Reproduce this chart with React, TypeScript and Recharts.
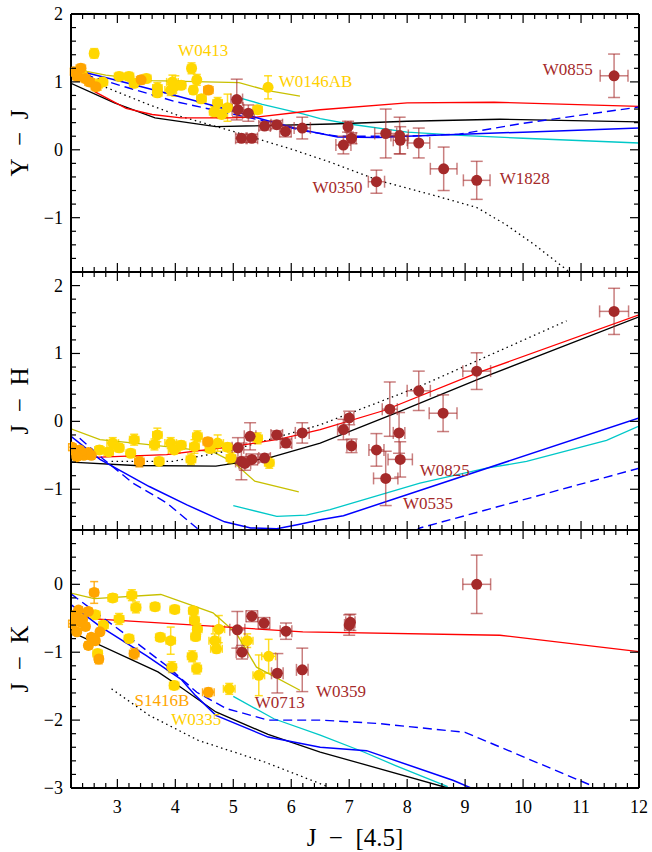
import React from 'react';
import { ComposedChart, XAxis, YAxis, Scatter, Line, ErrorBar, ReferenceDot } from 'recharts';

type Pt = [number, number, number, number]; // x, y, xerr, yerr
type Vx = [number, number];
type Note = [string, number, number, string];

// ---------------- shared x axis ----------------
const xDomain: [number, number] = [2.2, 12];
const xTitle = 'J\u2002\u2212\u2002[4.5]';

// ---------------- panel 1 : Y - J ----------------
const yjDomain: [number, number] = [-1.8, 2];
const yjTitle = 'Y\u2002\u2212\u2002J';
const yjYellow: Pt[] = [
  [2.60, 1.42, 0.07, 0.07], [4.28, 1.20, 0.07, 0.08], [4.37, 1.03, 0.06, 0.08], [4.31, 0.88, 0.06, 0.06],
  [3.03, 1.08, 0.08, 0.06], [3.20, 1.08, 0.08, 0.06], [3.29, 0.98, 0.08, 0.06], [3.50, 1.05, 0.08, 0.06],
  [3.69, 0.91, 0.08, 0.08], [3.69, 0.84, 0.08, 0.06], [3.95, 1.00, 0.10, 0.10], [3.92, 0.88, 0.10, 0.08],
  [4.00, 0.94, 0.10, 0.15], [4.10, 0.95, 0.08, 0.06], [2.66, 0.96, 0.08, 0.08], [2.40, 1.10, 0.08, 0.06],
  [2.75, 1.00, 0.08, 0.06], [4.45, 0.75, 0.08, 0.06], [4.73, 0.69, 0.08, 0.08], [4.67, 0.56, 0.08, 0.08],
  [4.90, 0.62, 0.08, 0.20], [4.80, 0.52, 0.08, 0.06], [5.42, 0.59, 0.08, 0.06], [5.60, 0.92, 0.05, 0.17],
];
const yjOrange: Pt[] = [
  [2.25, 1.15, 0.06, 0.05], [2.37, 1.20, 0.08, 0.06], [2.31, 1.08, 0.08, 0.06], [2.45, 1.05, 0.08, 0.06],
  [2.52, 1.00, 0.08, 0.06], [2.63, 0.93, 0.08, 0.06], [3.41, 1.03, 0.08, 0.06], [4.57, 0.88, 0.08, 0.06],
];
const yjRed: Pt[] = [
  [5.06, 0.74, 0.10, 0.30], [5.08, 0.59, 0.10, 0.10], [5.26, 0.54, 0.10, 0.12], [5.14, 0.17, 0.10, 0.06],
  [5.32, 0.17, 0.10, 0.06], [5.54, 0.35, 0.10, 0.06], [5.75, 0.37, 0.10, 0.06], [5.90, 0.27, 0.10, 0.08],
  [6.19, 0.32, 0.14, 0.16], [6.98, 0.34, 0.05, 0.08], [7.04, 0.17, 0.08, 0.08], [6.90, 0.07, 0.13, 0.13],
  [7.47, -0.47, 0.14, 0.17], [7.63, 0.24, 0.19, 0.36], [7.87, 0.21, 0.15, 0.27], [7.88, 0.14, 0.12, 0.20],
  [8.20, 0.10, 0.19, 0.22], [8.63, -0.28, 0.23, 0.32], [9.20, -0.45, 0.23, 0.28], [11.57, 1.09, 0.24, 0.32],
];
const yjRedModel: Vx[] = [[2.6, 0.86], [3.15, 0.61], [3.6, 0.52], [4.1, 0.47], [4.9, 0.47], [5.4, 0.48], [6.2, 0.56], [6.5, 0.59], [8, 0.69], [9.5, 0.70], [12, 0.64]];
const yjBlackModel: Vx[] = [[2.2, 0.98], [2.95, 0.69], [3.65, 0.47], [4.7, 0.34], [6.7, 0.38], [8, 0.42], [9.6, 0.45], [12, 0.41]];
const yjDotted: Vx[] = [[2.8, 0.92], [3.5, 0.68], [4.1, 0.49], [5, 0.27], [6, 0.01], [6.7, -0.19], [7.5, -0.45], [8.5, -0.68], [9.2, -0.85], [9.7, -1.1], [10.2, -1.4], [10.8, -1.8]];
const yjBlue: Vx[] = [[2.2, 1.19], [3, 1.02], [4, 0.8], [5, 0.57], [5.5, 0.45], [6.2, 0.29], [6.8, 0.19], [7.5, 0.18], [8, 0.2], [10, 0.26], [12, 0.32]];
const yjBlueDash: Vx[] = [[2.2, 1.17], [3, 0.96], [4, 0.71], [4.7, 0.58], [5.5, 0.43], [6.2, 0.28], [6.8, 0.2], [8, 0.2], [8.9, 0.23], [10, 0.39], [12, 0.63]];
const yjCyan: Vx[] = [[5.0, 0.79], [5.5, 0.67], [6.2, 0.53], [6.5, 0.46], [7, 0.38], [8, 0.26], [9, 0.21], [10, 0.17], [12, 0.10]];
const yjOlive: Vx[] = [[2.2, 1.2], [2.8, 1.1], [3.6, 1.02], [5.1, 0.99], [5.6, 0.87], [6.15, 0.79]];
const yjNotes: Note[] = [
  ['W0413', 4.48, 1.47, 'gold'], ['W0146AB', 6.42, 1.01, 'gold'], ['W0855', 10.77, 1.19, 'red'],
  ['W0350', 6.80, -0.55, 'red'], ['W1828', 10.03, -0.42, 'red'],
];

// ---------------- panel 2 : J - H ----------------
const jhDomain: [number, number] = [-1.6, 2.2];
const jhTitle = 'J\u2002\u2212\u2002H';
const jhYellow: Pt[] = [
  [3.69, -0.20, 0.08, 0.10], [4.38, -0.22, 0.08, 0.08], [3.29, -0.27, 0.08, 0.08], [2.92, -0.32, 0.10, 0.08],
  [3.03, -0.39, 0.08, 0.06], [2.69, -0.42, 0.08, 0.06], [3.92, -0.32, 0.10, 0.08], [3.98, -0.42, 0.10, 0.06],
  [3.64, -0.34, 0.08, 0.08], [4.33, -0.37, 0.08, 0.10], [4.73, -0.32, 0.10, 0.12], [3.23, -0.47, 0.08, 0.06],
  [3.72, -0.59, 0.08, 0.06], [4.27, -0.56, 0.08, 0.08], [4.96, -0.54, 0.08, 0.08], [5.42, -0.25, 0.08, 0.08],
  [5.62, -0.61, 0.08, 0.08], [4.60, -0.40, 0.08, 0.06], [2.85, -0.45, 0.08, 0.06], [4.90, -0.38, 0.08, 0.06],
  [4.10, -0.35, 0.08, 0.06],
];
const jhOrange: Pt[] = [
  [2.22, -0.38, 0.06, 0.05], [2.28, -0.45, 0.06, 0.05], [2.35, -0.42, 0.06, 0.05], [2.42, -0.50, 0.06, 0.05],
  [2.50, -0.46, 0.06, 0.05], [2.30, -0.52, 0.06, 0.05], [2.55, -0.50, 0.06, 0.05], [3.38, -0.59, 0.08, 0.08],
  [4.56, -0.30, 0.08, 0.06],
];
const jhRed: Pt[] = [
  [5.08, -0.39, 0.10, 0.15], [5.29, -0.22, 0.10, 0.20], [5.14, -0.59, 0.10, 0.27], [5.32, -0.56, 0.10, 0.08],
  [5.20, -0.62, 0.10, 0.10], [5.54, -0.54, 0.10, 0.06], [5.75, -0.20, 0.10, 0.06], [5.91, -0.32, 0.10, 0.06],
  [6.19, -0.17, 0.12, 0.15], [6.90, -0.12, 0.10, 0.15], [7.00, 0.05, 0.08, 0.10], [7.04, -0.36, 0.08, 0.10],
  [7.47, -0.42, 0.13, 0.24], [7.63, -0.84, 0.21, 0.40], [7.70, 0.18, 0.13, 0.40], [7.86, -0.17, 0.10, 0.30],
  [7.88, -0.56, 0.21, 0.26], [8.62, 0.12, 0.24, 0.27], [8.20, 0.45, 0.20, 0.29], [9.20, 0.74, 0.24, 0.27],
  [11.57, 1.62, 0.25, 0.34],
];
const jhRedModel: Vx[] = [[2.6, -0.53], [3.85, -0.49], [5, -0.37], [5.8, -0.26], [6.5, -0.12], [7.6, 0.16], [9.2, 0.71], [12, 1.57]];
const jhBlackModel: Vx[] = [[2.2, -0.6], [3.3, -0.65], [4.7, -0.66], [5.6, -0.54], [6.5, -0.32], [7.8, 0.12], [9.2, 0.61], [12, 1.54]];
const jhDotted: Vx[] = [[2.9, -0.59], [3.95, -0.59], [5, -0.42], [6.5, -0.05], [8.2, 0.51], [10.75, 1.48]];
const jhBlue: Vx[] = [[2.2, -0.22], [2.7, -0.56], [3.55, -0.96], [4.2, -1.23], [4.85, -1.48], [5.3, -1.57], [5.75, -1.58], [6.17, -1.51], [6.5, -1.45], [6.9, -1.39], [12, 0.05]];
const jhBlueDash: Vx[] = [[2.35, -0.25], [2.75, -0.55], [3.27, -0.91], [3.85, -1.2], [4.37, -1.57], [4.7, -1.85], [7.8, -1.8], [8.22, -1.57], [12, -0.69]];
const jhCyan: Vx[] = [[5.0, -1.24], [5.75, -1.40], [6.26, -1.38], [6.67, -1.30], [8.22, -0.91], [9.37, -0.69], [10.06, -0.59], [11.44, -0.28], [12, -0.07]];
const jhOlive: Vx[] = [[2.2, -0.11], [2.7, -0.27], [3.5, -0.34], [4.65, -0.45], [5.0, -0.6], [5.37, -0.88], [6.13, -1.04]];
const jhNotes: Note[] = [['W0825', 8.65, -0.72, 'red'], ['W0535', 8.36, -1.20, 'red']];

// ---------------- panel 3 : J - K ----------------
const jkDomain: [number, number] = [-3, 0.8];
const jkTitle = 'J\u2002\u2212\u2002K';
const jkYellow: Pt[] = [
  [2.92, -0.20, 0.08, 0.06], [3.25, -0.16, 0.08, 0.08], [3.32, -0.34, 0.08, 0.08], [3.65, -0.33, 0.08, 0.06],
  [3.99, -0.37, 0.08, 0.06], [4.31, -0.39, 0.08, 0.06], [4.33, -0.53, 0.08, 0.06], [4.38, -0.66, 0.08, 0.08],
  [4.35, -0.77, 0.08, 0.06], [3.74, -0.78, 0.08, 0.06], [3.92, -0.83, 0.08, 0.20], [4.68, -0.83, 0.10, 0.10],
  [4.71, -0.95, 0.10, 0.06], [4.75, -0.66, 0.10, 0.20], [3.20, -0.80, 0.08, 0.06], [3.03, -0.51, 0.08, 0.08],
  [2.76, -0.60, 0.08, 0.06], [4.29, -1.06, 0.08, 0.08], [4.37, -1.24, 0.08, 0.08], [3.94, -1.22, 0.08, 0.08],
  [3.98, -1.49, 0.08, 0.06], [4.93, -1.54, 0.10, 0.08], [2.66, -1.02, 0.08, 0.06], [5.24, -0.83, 0.10, 0.10],
  [5.61, -1.06, 0.12, 0.25], [5.44, -1.34, 0.10, 0.30], [2.62, -0.45, 0.08, 0.06],
];
const jkOrange: Pt[] = [
  [2.60, -0.12, 0.07, 0.16], [2.22, -0.58, 0.06, 0.05], [2.27, -0.45, 0.06, 0.05], [2.33, -0.38, 0.06, 0.05],
  [2.40, -0.52, 0.06, 0.05], [2.45, -0.62, 0.06, 0.05], [2.50, -0.40, 0.06, 0.05], [2.30, -0.70, 0.06, 0.05],
  [2.55, -0.78, 0.06, 0.05], [2.62, -0.83, 0.06, 0.05], [2.50, -0.90, 0.06, 0.05], [2.68, -1.10, 0.07, 0.07],
  [2.35, -0.55, 0.06, 0.05], [2.70, -0.70, 0.06, 0.05], [3.29, -1.02, 0.08, 0.08], [4.57, -1.59, 0.10, 0.06],
];
const jkRed: Pt[] = [
  [5.07, -0.67, 0.13, 0.27], [5.32, -0.47, 0.10, 0.08], [5.53, -0.57, 0.10, 0.08], [5.91, -0.69, 0.10, 0.12],
  [5.15, -1.00, 0.10, 0.10], [5.76, -1.31, 0.10, 0.29], [6.19, -1.26, 0.10, 0.32], [7.02, -0.56, 0.08, 0.12],
  [7.00, -0.60, 0.08, 0.15], [9.20, 0.00, 0.24, 0.43],
];
const jkRedModel: Vx[] = [[2.6, -0.51], [6.2, -0.70], [9.6, -0.75], [12, -0.99]];
const jkBlackModel: Vx[] = [[2.2, -0.7], [3.7, -1.29], [4.1, -1.52], [4.7, -1.88], [5.6, -2.21], [6.5, -2.47], [8.7, -3.0]];
const jkDotted: Vx[] = [[2.9, -1.54], [3.55, -1.93], [4.4, -2.3], [5.55, -2.62], [6.6, -2.97]];
const jkBlue: Vx[] = [[2.2, -0.3], [2.7, -0.62], [3.5, -1.05], [4.1, -1.4], [4.35, -1.64], [4.7, -1.93], [5.6, -2.25], [6.5, -2.4], [7.3, -2.45], [8.8, -2.89], [9.1, -3.0]];
const jkBlueDash: Vx[] = [[2.2, -0.14], [2.7, -0.46], [3.16, -0.75], [3.85, -1.2], [4.37, -1.59], [4.88, -1.83], [5.6, -2.0], [6.5, -2.0], [7.5, -2.05], [9.0, -2.18], [11.2, -2.97]];
const jkCyan: Vx[] = [[5.0, -1.65], [5.7, -1.98], [6.5, -2.22], [7.25, -2.47], [7.8, -2.67], [8.7, -2.98]];
const jkOlive: Vx[] = [[2.2, -0.13], [2.6, -0.21], [3.75, -0.15], [4.65, -0.42], [5.05, -0.72], [5.4, -1.22], [6.15, -1.56]];
const jkNotes: Note[] = [
  ['W0713', 5.80, -1.73, 'red'], ['W0359', 6.86, -1.57, 'red'], ['S1416B', 3.77, -1.71, 'orange'], ['W0335', 4.36, -1.98, 'gold'],
];

// ---------------- styling ----------------
const W = 652;
const FONT = "'Liberation Serif', 'DejaVu Serif', serif";
const GOLD = '#FFD700';
const ORANGE = '#FFA500';
const BROWN = '#A52A2A';
const NOTE_COLORS: Record<string, string> = { gold: '#FFD000', red: BROWN, orange: ORANGE };
const LINE_STYLES: Record<string, { stroke: string; w: number; dash?: string }> = {
  olive: { stroke: '#C8C000', w: 1.3 },
  cyan: { stroke: '#00C8C8', w: 1.3 },
  dotted: { stroke: '#000000', w: 1.3, dash: '1.5 3.5' },
  black: { stroke: '#000000', w: 1.3 },
  red: { stroke: '#FF0000', w: 1.3 },
  blueDash: { stroke: '#0000FF', w: 1.4, dash: '9 5' },
  blue: { stroke: '#0000FF', w: 1.5 },
};

const stepTicks = (lo: number, hi: number) => {
  const out: number[] = [];
  for (let i = Math.round(lo * 5); i <= Math.round(hi * 5); i++) out.push(Math.round(i * 2) / 10);
  return out;
};
const xTicks = stepTicks(xDomain[0], xDomain[1]);
const fmt = (v: number) => (v < 0 ? '\u2212' + Math.abs(v) : String(v));
const toPts = (a: Pt[]) => a.map(([x, y, ex, ey]) => ({ x, y, ex, ey }));
const toLine = (a: Vx[]) => a.map(([x, y]) => ({ x, y }));

const makeTick = (side: 'bottom' | 'top' | 'left' | 'right', labels: boolean) => (props: any) => {
  const { x, y, payload } = props;
  const v = payload.value as number;
  const major = Math.abs(v - Math.round(v)) < 1e-6;
  const len = major ? 9 : 5;
  let x2 = x, y2 = y;
  if (side === 'bottom') y2 = y - len;
  else if (side === 'top') y2 = y + len;
  else if (side === 'left') x2 = x + len;
  else x2 = x - len;
  let label = null;
  if (labels && major) {
    if (side === 'bottom')
      label = <text x={x} y={y + 25} textAnchor="middle" fontSize={18} fontFamily={FONT} fill="#000">{fmt(Math.round(v))}</text>;
    else if (side === 'left')
      label = <text x={x - 8} y={y + 6} textAnchor="end" fontSize={18} fontFamily={FONT} fill="#000">{fmt(Math.round(v))}</text>;
  }
  return (
    <g>
      <line x1={x} y1={y} x2={x2} y2={y2} stroke="#000" strokeWidth={1.2} />
      {label}
    </g>
  );
};

const dot = (fill: string) => (props: any) => {
  const { cx, cy } = props;
  if (cx == null || cy == null) return <g />;
  return <circle cx={cx} cy={cy} r={5.5} fill={fill} />;
};

type Spec = {
  top: number; height: number; mt: number; mb: number;
  yDomain: [number, number]; title: string; xLabels: boolean;
  yellow: Pt[]; orange: Pt[]; red: Pt[];
  lines: [string, Vx[]][]; notes: Note[];
};

const frame = { stroke: '#000', strokeWidth: 2 };

function renderPanel(s: Spec, key: string) {
  const yT = stepTicks(s.yDomain[0], s.yDomain[1]);
  const pts = (data: Pt[], color: string, capW: number, barColor: string, barOpacity: number) => (
    <Scatter data={toPts(data)} xAxisId="b" yAxisId="l" isAnimationActive={false} shape={dot(color)}>
      <ErrorBar dataKey="ex" direction="x" width={capW} stroke={barColor} strokeOpacity={barOpacity} strokeWidth={1.5} isAnimationActive={false} />
      <ErrorBar dataKey="ey" direction="y" width={capW} stroke={barColor} strokeOpacity={barOpacity} strokeWidth={1.5} isAnimationActive={false} />
    </Scatter>
  );
  return (
    <div key={key} style={{ position: 'absolute', left: 0, top: s.top, width: W, height: s.height }}>
      <ComposedChart width={W} height={s.height} margin={{ top: s.mt, right: 12, bottom: s.mb, left: 0 }}>
        <XAxis xAxisId="b" dataKey="x" type="number" domain={xDomain} allowDataOverflow ticks={xTicks} interval={0}
          orientation="bottom" height={s.xLabels ? 64 : 1} tickLine={false} tickSize={0} tickMargin={0} axisLine={frame}
          tick={makeTick('bottom', s.xLabels)}
          label={s.xLabels ? { value: xTitle, position: 'insideBottom', offset: 6, fontSize: 25, fill: '#000', fontFamily: FONT } : undefined} />
        <XAxis xAxisId="t" dataKey="x" type="number" domain={xDomain} allowDataOverflow ticks={xTicks} interval={0}
          orientation="top" height={1} tickLine={false} tickSize={0} tickMargin={0} axisLine={frame} tick={makeTick('top', false)} />
        <YAxis yAxisId="l" dataKey="y" type="number" domain={s.yDomain} allowDataOverflow ticks={yT} interval={0}
          orientation="left" width={71} tickLine={false} tickSize={0} tickMargin={0} axisLine={frame} tick={makeTick('left', true)}
          label={{ value: s.title, angle: -90, position: 'insideLeft', offset: 19, fontSize: 25, fill: '#000', fontFamily: FONT, style: { textAnchor: 'middle' } }} />
        <YAxis yAxisId="r" dataKey="y" type="number" domain={s.yDomain} allowDataOverflow ticks={yT} interval={0}
          orientation="right" width={1} tickLine={false} tickSize={0} tickMargin={0} axisLine={frame} tick={makeTick('right', false)} />
        {pts(s.yellow, GOLD, 4, GOLD, 0.85)}
        {pts(s.orange, ORANGE, 4, ORANGE, 0.85)}
        {s.lines.map(([kind, data], i) => {
          const st = LINE_STYLES[kind];
          return (
            <Line key={kind + i} data={toLine(data)} dataKey="y" xAxisId="b" yAxisId="l" type="linear"
              stroke={st.stroke} strokeWidth={st.w} strokeDasharray={st.dash} dot={false} activeDot={false} isAnimationActive={false} />
          );
        })}
        {pts(s.red, BROWN, 6, BROWN, 0.6)}
        {s.notes.map(([t, x, y, c]) => (
          <ReferenceDot key={t} x={x} y={y} r={0} xAxisId="b" yAxisId="l" ifOverflow="visible" fill="none" stroke="none"
            label={{ value: t, position: 'center', fontSize: 17, fill: NOTE_COLORS[c], fontFamily: FONT }} />
        ))}
      </ComposedChart>
    </div>
  );
}

const panels: Spec[] = [
  {
    top: 0, height: 280, mt: 13, mb: 7, yDomain: yjDomain, title: yjTitle, xLabels: false,
    yellow: yjYellow, orange: yjOrange, red: yjRed,
    lines: [['olive', yjOlive], ['cyan', yjCyan], ['dotted', yjDotted], ['black', yjBlackModel], ['red', yjRedModel], ['blueDash', yjBlueDash], ['blue', yjBlue]],
    notes: yjNotes,
  },
  {
    top: 262, height: 276, mt: 9, mb: 7, yDomain: jhDomain, title: jhTitle, xLabels: false,
    yellow: jhYellow, orange: jhOrange, red: jhRed,
    lines: [['olive', jhOlive], ['cyan', jhCyan], ['dotted', jhDotted], ['black', jhBlackModel], ['red', jhRedModel], ['blueDash', jhBlueDash], ['blue', jhBlue]],
    notes: jhNotes,
  },
  {
    top: 520, height: 332, mt: 9, mb: 0, yDomain: jkDomain, title: jkTitle, xLabels: true,
    yellow: jkYellow, orange: jkOrange, red: jkRed,
    lines: [['olive', jkOlive], ['cyan', jkCyan], ['dotted', jkDotted], ['black', jkBlackModel], ['red', jkRedModel], ['blueDash', jkBlueDash], ['blue', jkBlue]],
    notes: jkNotes,
  },
];

export default function App() {
  return (
    <div style={{ position: 'absolute', left: 0, top: 0, width: W, height: 852, background: '#fff', fontFamily: FONT }}>
      {panels.map((p, i) => renderPanel(p, 'p' + i))}
    </div>
  );
}
